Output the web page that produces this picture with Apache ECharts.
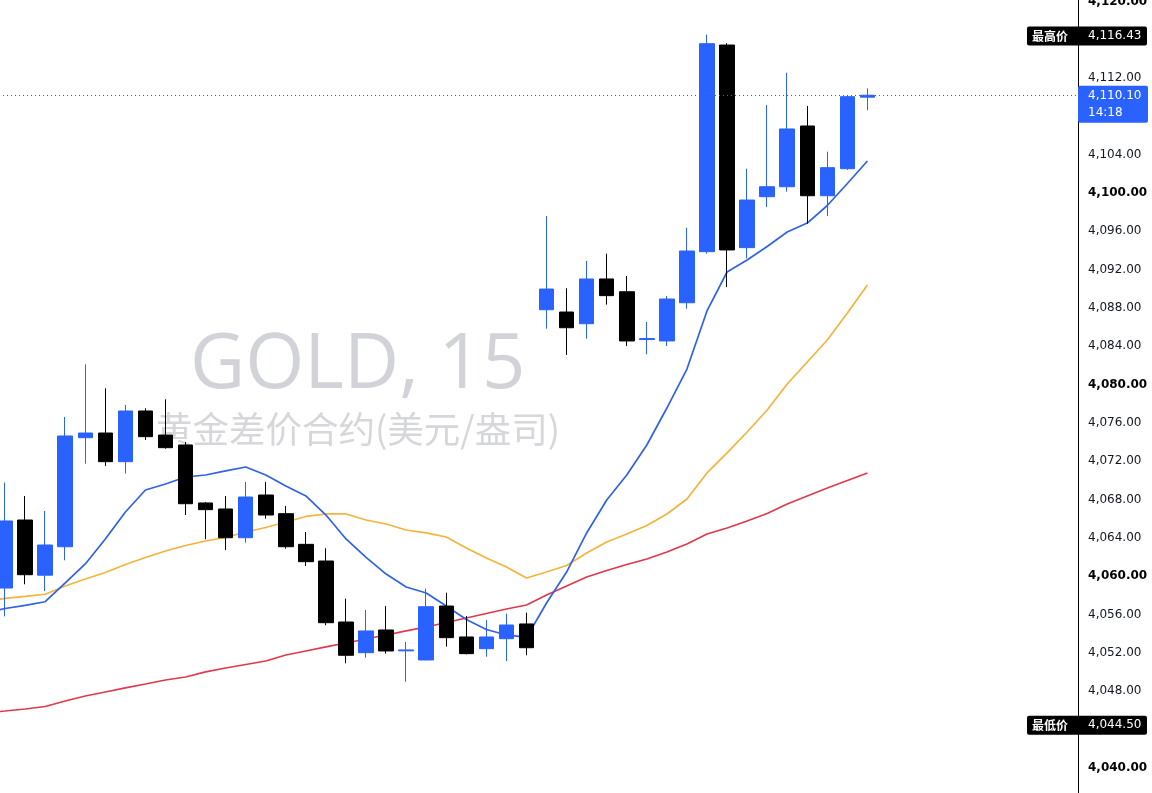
<!DOCTYPE html>
<html><head><meta charset="utf-8">
<script src="https://cdn.jsdelivr.net/npm/echarts@6/dist/echarts.min.js"></script>
<style>html,body{margin:0;padding:0;background:#fff;overflow:hidden}#main{width:1152px;height:793px}</style>
</head><body><div id="main"></div>
<script>
// ---- data ----
const categories = ['1','2','3','4','5','6','7','8','9','10','11','12','13','14','15','16','17','18','19','20',
  '21','22','23','24','25','26','27','28','29','30','31','32','33','34','35','36','37','38','39','40',
  '41','42','43','44','45','46','47','48','49','50','51','52','53','54','55'];
// visible candles (start at category 2; category 1 is off-screen to the left)
const opens  = [4058.66,4065.76,4060.00,4062.97,4074.35,4074.84,4071.85,4077.14,4074.63,4073.59,
  4067.54,4066.91,4063.91,4068.37,4066.42,4063.22,4061.48,4055.11,4051.91,4054.28,
  4052.10,4051.15,4056.78,4053.55,4052.33,4053.37,4054.91,4087.71,4087.47,4086.25,
  4090.92,4089.59,4084.60,4084.45,4088.44,4093.77,4115.34,4094.19,4099.51,4100.55,
  4106.89,4099.61,4102.43,4109.90];
const closes = [4065.66,4060.05,4063.15,4074.53,4074.84,4071.85,4077.14,4074.46,4073.31,4067.46,
  4066.84,4063.91,4068.16,4066.28,4062.97,4061.41,4055.04,4051.64,4054.18,4052.09,
  4052.20,4056.71,4053.48,4051.81,4053.55,4054.80,4052.43,4089.87,4085.83,4090.92,
  4089.18,4084.45,4084.70,4088.83,4093.84,4115.48,4093.95,4099.16,4100.55,4106.58,
  4099.61,4102.54,4109.95,4110.10];
const lows   = [4055.70,4059.05,4058.35,4061.56,4071.64,4071.40,4070.60,4074.11,4073.20,4066.28,
  4063.75,4062.63,4063.39,4065.90,4062.77,4060.96,4054.77,4050.80,4051.39,4051.81,
  4048.88,4051.12,4052.54,4051.74,4051.49,4051.04,4051.64,4085.73,4082.99,4084.69,
  4088.24,4083.93,4083.06,4083.93,4087.82,4093.56,4090.08,4093.08,4098.43,4100.03,
  4096.69,4097.49,4102.30,4108.53];
const highs  = [4069.66,4068.27,4066.70,4076.51,4082.01,4079.51,4077.77,4077.42,4078.36,4073.90,
  4067.64,4068.27,4069.73,4069.73,4067.22,4064.51,4062.81,4057.55,4056.37,4056.78,
  4053.03,4058.59,4058.17,4055.74,4055.32,4055.98,4056.09,4097.49,4089.95,4092.80,
  4093.56,4091.23,4086.43,4089.14,4096.27,4116.43,4115.55,4102.43,4109.08,4112.45,
  4108.98,4104.21,4110.10,4110.82];
// moving averages (start at category 1)
const maBlue = [4056.05,4056.52,4056.84,4057.23,4059.19,4061.17,4063.78,4066.60,4068.89,4069.52,
  4070.25,4070.46,4070.88,4071.29,4070.46,4069.31,4068.27,4066.28,4063.78,4061.85,
  4060.12,4058.77,4058.14,4056.79,4055.38,4054.33,4053.76,4053.50,4057.10,4060.33,
  4064.41,4067.85,4070.46,4073.59,4077.45,4081.52,4087.58,4091.65,4092.90,4094.31,
  4095.82,4096.76,4098.59,4100.89,4103.24];
const maOrange = [4057.31,4057.57,4057.78,4058.01,4058.87,4059.60,4060.28,4061.12,4061.85,4062.53,
  4063.10,4063.57,4063.94,4064.51,4064.98,4065.55,4066.13,4066.39,4066.39,4065.76,
  4065.34,4064.72,4064.41,4063.99,4062.84,4061.80,4060.86,4059.71,4060.33,4061.01,
  4062.32,4063.47,4064.30,4065.19,4066.39,4067.95,4070.67,4072.76,4074.95,4077.24,
  4079.96,4082.25,4084.55,4087.37,4090.29];
const maRed = [4045.62,4045.82,4046.03,4046.29,4046.87,4047.39,4047.81,4048.23,4048.64,4049.06,
  4049.37,4049.90,4050.31,4050.68,4051.04,4051.67,4052.09,4052.51,4052.92,4053.34,
  4053.76,4054.18,4054.59,4055.06,4055.53,4056.00,4056.47,4056.89,4057.93,4058.87,
  4059.81,4060.49,4061.12,4061.69,4062.42,4063.26,4064.30,4064.93,4065.66,4066.44,
  4067.43,4068.27,4069.10,4069.89,4070.67];
const yMin = 4036, yMax = 4120, yInterval = 4;
const highestPrice = 4116.43, lowestPrice = 4044.50, lastPrice = 4110.10, countdown = '14:18';
const highLabel = '最高价', lowLabel = '最低价';
const watermarkTitle = 'GOLD, 15';
const watermarkSub = '黄金差价合约(美元/盎司)';

// ---- chart ----
const UP = '#2962ff', DOWN = '#000000';
const gridRight = 74;
const fmt = v => Number(v).toLocaleString('en-US', {minimumFractionDigits: 2, maximumFractionDigits: 2});
const candleData = [['-','-','-','-']].concat(opens.map((o, i) => [o, closes[i], lows[i], highs[i]]));

const chart = echarts.init(document.getElementById('main'), null, {renderer: 'canvas'});
chart.setOption({
  animation: false,
  backgroundColor: '#ffffff',
  grid: {left: -25, right: gridRight, top: 0.4, bottom: -12.1, containLabel: false, outerBoundsMode: 'none'},
  xAxis: {type: 'category', data: categories, boundaryGap: true, show: false},
  yAxis: {
    type: 'value', position: 'right', min: yMin, max: yMax, interval: yInterval,
    axisLine: {show: true, lineStyle: {color: '#000', width: 1}},
    axisTick: {show: false}, splitLine: {show: false},
    axisLabel: {
      margin: 10, fontFamily: 'DejaVu Sans', fontSize: 12, color: '#131722',
      formatter: v => (v % 20 === 0 ? '{b|' + fmt(v) + '}' : '{n|' + fmt(v) + '}'),
      rich: {
        b: {fontFamily: 'DejaVu Sans', fontSize: 12, fontWeight: 'bold', color: '#000', padding: [2, 0, 0, 0]},
        n: {fontFamily: 'DejaVu Sans', fontSize: 12, color: '#131722', padding: [2, 0, 0, 0]}
      }
    }
  },
  series: [
    {
      type: 'candlestick', data: candleData, barWidth: 15, z: 3,
      itemStyle: {color: UP, color0: DOWN, borderColor: UP, borderColor0: DOWN, borderWidth: 1},
      markLine: {
        silent: true, symbol: ['none', 'none'], animation: false,
        label: {show: false},
        lineStyle: {color: '#3b6a7a', width: 1, type: [1, 3]},
        data: [{yAxis: lastPrice}]
      }
    },
    {type: 'line', data: maRed, symbol: 'none', z: 2, lineStyle: {color: '#e0394e', width: 1.7}},
    {type: 'line', data: maOrange, symbol: 'none', z: 2, lineStyle: {color: '#f2b43a', width: 1.7}},
    {type: 'line', data: maBlue, symbol: 'none', z: 2, lineStyle: {color: '#2f62e6', width: 1.7}}
  ]
});

const axisX = chart.getWidth() - gridRight;
const yPix = v => chart.convertToPixel({yAxisIndex: 0}, v);
const yH = yPix(highestPrice), yL = yPix(lowestPrice), yP = yPix(lastPrice);
function txt(t, x, y, opts) {
  return Object.assign({type: 'text', x: x, y: y, z: 100, silent: true,
    style: Object.assign({text: t, fill: '#fff', fontSize: 12, fontFamily: 'DejaVu Sans',
      align: 'left', verticalAlign: 'middle', textAlign: 'left', textVerticalAlign: 'middle'}, opts || {})});
}
function tagBox(label, value, y) {
  return [
    {type: 'rect', z: 99, silent: true, shape: {x: axisX - 51, y: y - 8, width: 120, height: 19, r: 2}, style: {fill: '#000'}},
    txt(label, axisX - 46, y + 1.5, {fontFamily: 'Noto Sans CJK SC', fontWeight: 'bold'}),
    txt(fmt(value), axisX + 10, y + 1.5)
  ];
}
chart.setOption({
  graphic: [
    {type: 'text', x: 190, y: 366, z: 0, silent: true,
      style: {text: watermarkTitle, fill: '#d1d3d8', fontSize: 76, fontFamily: 'Open Sans',
        align: 'left', verticalAlign: 'middle', textAlign: 'left', textVerticalAlign: 'middle'}},
    {type: 'text', x: 156, y: 429, z: 0, silent: true,
      style: {text: watermarkSub, fill: '#d6d7db', fontSize: 36.5, fontFamily: 'Noto Sans CJK SC',
        align: 'left', verticalAlign: 'middle', textAlign: 'left', textVerticalAlign: 'middle'}}
  ].concat(tagBox(highLabel, highestPrice, yH))
   .concat(tagBox(lowLabel, lowestPrice, yL))
   .concat([
    {type: 'rect', z: 99, silent: true, shape: {x: axisX, y: yP - 9.5, width: 70, height: 37, r: 2}, style: {fill: UP}},
    txt(fmt(lastPrice), axisX + 10, yP + 1),
    txt(countdown, axisX + 10, yP + 17.5)
  ])
});
</script></body></html>
